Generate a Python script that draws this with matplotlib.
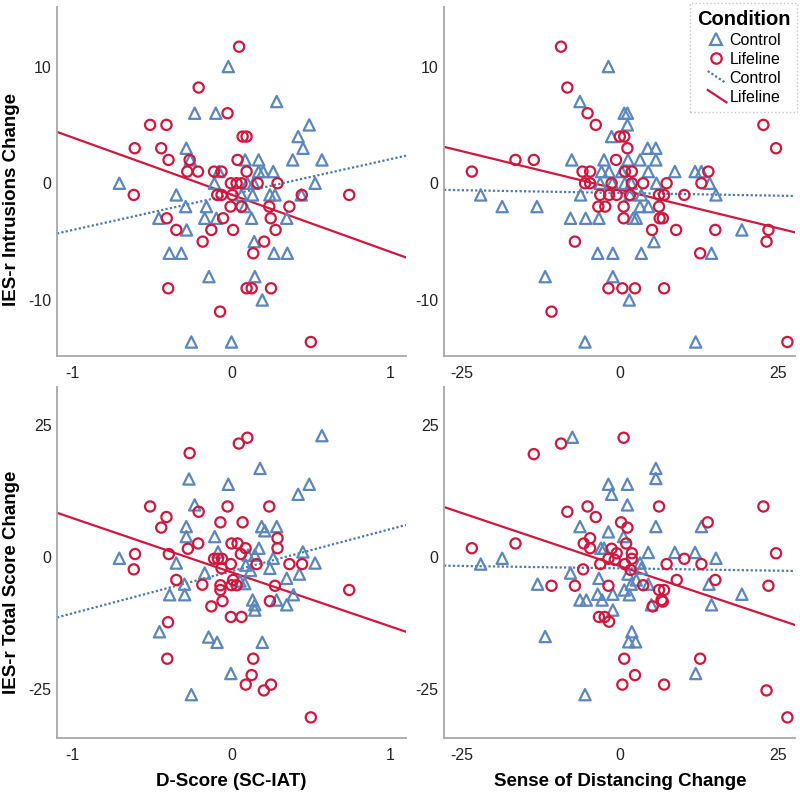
import numpy as np
import matplotlib
matplotlib.use("Agg")
import matplotlib.pyplot as plt
from matplotlib.legend_handler import HandlerBase

plt.rcParams["font.family"] = ["Liberation Sans", "DejaVu Sans"]
plt.rcParams["axes.unicode_minus"] = False

# colours for the two conditions
BLUE = "#5b87bd"
RED = "#d0173e"

# ---- top-left: D-Score vs IES-r Intrusions ----
tl_ctrl_x = [-0.02, 0.285, -0.232, -0.099, 0.49, 0.42, -0.285, 0.451, 0.086, 0.171, 0.386, 0.57, -0.26,
             0.171, 0.2, 0.263, -0.08, -0.707, -0.108, 0.1, 0.14, 0.527, -0.348, 0.063, 0.133, 0.242, 0.274,
             0.44, -0.289, -0.158, 0.084, -0.458, -0.169, -0.095, 0.127, 0.348, -0.283, 0.143, -0.392,
             -0.316, 0.268, 0.352, -0.142, 0.147, 0.194, -0.253, 0.0]
tl_ctrl_y = [10, 7, 6, 6, 5, 4, 3, 3, 2, 2, 2, 2, 2,
             1, 1, 1, 1, 0, 0, 0, 0, 0, -1, -1, -1, -1, -1,
             -1, -2, -2, -2, -3, -3, -3, -3, -3, -4, -5, -6,
             -6, -6, -6, -8, -8, -10, -13.6, -13.6]
tl_life_x = [0.048, -0.207, -0.025, -0.513, -0.41, 0.07, 0.095, -0.61, -0.443, -0.397, -0.264, 0.038,
             -0.279, -0.211, -0.11, -0.063, 0.095, -0.004, 0.032, 0.063, 0.165, 0.29, -0.616, -0.09,
             -0.063, 0.006, 0.443, 0.742, -0.006, 0.063, 0.238, 0.365, -0.408, -0.053, 0.247, -0.348,
             -0.127, 0.01, 0.278, -0.182, 0.206, 0.137, -0.399, 0.095, 0.127, 0.249, -0.072, 0.5]
tl_life_y = [11.7, 8.2, 6, 5, 5, 4, 4, 3, 3, 2, 2, 2,
             1, 1, 1, 1, 1, 0, 0, 0, 0, 0, -1, -1,
             -1, -1, -1, -1, -2, -2, -2, -2, -3, -3, -3, -4,
             -4, -4, -4, -5, -5, -6, -9, -9, -9, -9, -11, -13.6]

# ---- top-right: Sense of Distancing vs IES-r Intrusions ----
tr_ctrl_x = [-1.8, -6.3, 0.7, 1.2, 1.2, -1.3, 4.4, 5.7, -7.6, -2.5, 1.3, 3.2, 5.7, -2.9, -1.7, 0.3, 4.5,
             8.7, 11.9, 12.9, -3.1, -1.2, 0.8, 1.8, 5.8, 14.2, -22, -6.2, 1.6, 3.4, 15.2, -18.6, -13.1,
             3.2, 4.5, -7.8, -5.4, -3.3, 2.1, 2.6, 19.3, 5.4, -3.5, -1.1, 3.4, 14.5, -11.8, -1.1, 1.5,
             -5.5, 12.0]
tr_ctrl_y = [10, 7, 6, 6, 5, 4, 3, 3, 2, 2, 2, 2, 2, 1, 1, 1, 1,
             1, 1, 1, 0, 0, 0, 0, 0, 0, -1, -1, -1, -1, -1, -2, -2,
             -2, -2, -3, -3, -3, -3, -3, -4, -5, -6, -6, -6, -6, -8, -8, -10,
             -13.6, -13.6]
tr_life_x = [-9.3, -8.3, -5.1, -3.8, 22.7, 0, 0.7, 1.2, 24.7, -16.5, -13.6, -0.6, -23.4, -5.9, -4.7,
             0.8, 1.9, 14.0, -5.5, -4.7, -1.3, 1.9, 3.7, 7.4, 12.9, -3.1, -1.7, -0.5, 1.6, 6.2, 7.0,
             10.2, -3.4, -2.3, 0.6, 6.2, 0.6, 6.3, 6.8, 5.1, 8.9, 15.1, 23.5, -7.1, 23.2, 12.7, -1.8,
             0.4, 2.4, 7.0, -10.8, 26.5]
tr_life_y = [11.7, 8.2, 6, 5, 5, 4, 4, 3, 3, 2, 2, 2, 1, 1, 1,
             1, 1, 1, 0, 0, 0, 0, 0, 0, 0, -1, -1, -1, -1, -1, -1,
             -1, -2, -2, -2, -2, -3, -3, -3, -4, -4, -4, -4, -5, -5, -6, -9,
             -9, -9, -9, -11, -13.6]

# ---- bottom-left: D-Score vs IES-r Total ----
bl_ctrl_x = [0.57, 0.18, -0.268, -0.02, 0.49, 0.42, -0.232, -0.285, 0.19, 0.285, 0.21, -0.285, -0.106,
             0.173, -0.085, 0.45, -0.707, 0.105, 0.147, 0.263, -0.348, 0.527, 0.09, 0.12, 0.242, -0.169,
             0.428, 0.348, -0.296, 0.084, 0.053, -0.39, -0.295, 0.133, 0.147, 0.147, 0.284, 0.348, 0.39,
             -0.454, -0.144, -0.091, 0.194, -0.004, -0.253]
bl_ctrl_y = [23, 16.8, 14.8, 13.8, 13.8, 11.9, 9.9, 5.8, 5.8, 5.8, 5.0, 3.9, 3.9,
             1.7, 1.0, 1.0, -0.2, 0.4, 0.4, -0.2, -1.1, -1.1, -1.5, -2.5, -2.1, -3.0,
             -3.2, -4.0, -5.1, -5.0, -4.5, -7.1, -7.1, -8.1, -9.0, -10.0, -8.1, -9.0, -7.1,
             -14.1, -15.1, -16.1, -16.1, -22.0, -26.0]
bl_life_x = [0.046, 0.1, -0.264, -0.513, -0.025, 0.238, -0.207, -0.41, -0.443, -0.07, 0.07, 0.29, -0.21,
             -0.275, 0.0, 0.038, 0.089, 0.29, -0.608, -0.395, 0.059, -0.11, -0.085, -0.06, -0.616,
             -0.004, -0.063, 0.158, 0.365, 0.445, -0.348, -0.184, -0.07, 0.0, 0.032, 0.01, 0.274, 0.742,
             -0.07, -0.057, -0.127, 0.242, -0.004, 0.063, -0.4, -0.405, 0.137, 0.127, 0.09, 0.249, 0.204,
             0.5]
bl_life_y = [21.5, 22.6, 19.7, 9.6, 9.6, 9.6, 8.6, 7.6, 5.6, 6.6, 6.6, 3.6, 2.6,
             1.6, 2.6, 2.6, 1.7, 1.7, 0.6, 0.6, 0.6, -0.3, -0.3, -0.3, -2.3,
             -1.3, -2.1, -1.3, -1.3, -1.3, -4.3, -5.2, -5.3, -5.3, -5.3, -4.3, -5.4, -6.2,
             -6.2, -8.3, -9.3, -8.3, -11.3, -11.3, -12.3, -19.2, -19.2, -22.3, -24.1, -24.1, -25.2,
             -30.3]

# ---- bottom-right: Sense of Distancing vs IES-r Total ----
br_ctrl_x = [-7.5, 5.7, 5.7, -1.8, 1.2, -1.3, 1.2, -6.3, -1.8, 5.7, 12.9, 0.6, -3.0, -2.5, 4.5, 8.7,
             11.9, 15.2, -18.6, -22, 3.2, 3.4, -7.8, 1.3, -3.3, 2.6, -13.0, 1.8, 4.5, 14.1, 19.3, -3.5,
             -1.1, 0.7, -6.3, -5.3, -2.8, 1.5, 5.0, 14.5, -1.1, -11.8, 1.9, 1.4, 2.5, 12.0, -5.5]
br_ctrl_y = [22.7, 16.8, 14.9, 13.8, 13.8, 11.9, 9.9, 5.8, 4.8, 5.8, 5.8, 3.9, 1.7, 1.7, 0.9, 0.9,
             0.9, -0.2, -0.2, -1.3, -1.1, -2.1, -3.0, -3.2, -4.0, -4.3, -5.1, -5.1, -5.1, -5.1, -7.0, -7.0,
             -7.0, -6.2, -8.1, -8.1, -8.1, -7.1, -9.0, -9.0, -10, -15.0, -14.1, -16.0, -16.0, -22.0, -26]
br_life_x = [0.6, -9.3, -13.6, -5.1, 6.2, 22.7, -8.3, -3.8, 0.2, 1.2, 13.9, -4.7, -5.7, 1.0, -16.5,
             -4.7, -23.4, -1.3, -0.5, 1.9, 24.7, 10.2, -1.8, -0.8, 1.9, -3.1, 0.8, 7.4, 12.9, 1.7,
             -5.8, 9.0, 15.1, -10.8, -7.1, -1.8, 3.7, 23.5, 6.2, 7.0, 6.6, 6.8, 5.2, -3.3, -2.4, -1.7,
             0.7, 12.7, 2.4, 0.4, 7.0, 23.2, 26.5]
br_life_y = [22.6, 21.5, 19.5, 9.6, 9.6, 9.6, 8.6, 7.6, 6.6, 5.6, 6.6, 3.6, 2.6, 2.6, 2.6,
             1.7, 1.7, 1.6, 0.75, 0.75, 0.75, -0.3, -0.3, -0.5, -0.3, -1.3, -1.3, -1.3, -1.3, -2.4,
             -2.3, -4.3, -4.3, -5.4, -5.4, -5.4, -5.3, -5.4, -6.2, -6.2, -8.1, -8.4, -9.3, -11.3, -11.3, -12.2,
             -19.2, -19.2, -22.3, -24.1, -24.1, -25.2, -30.3]

# fit lines: (intercept, slope)
tl_fit = {"Control": (-0.97, 3.03), "Lifeline": (-0.98, -4.89)}
tr_fit = {"Control": (-0.83, -0.0094), "Lifeline": (-0.55, -0.132)}
bl_fit = {"Control": (-2.65, 7.95), "Lifeline": (-2.85, -10.23)}
br_fit = {"Control": (-2.1, -0.018), "Lifeline": (-1.68, -0.402)}

dscore_ticks = [-1, 0, 1]
distancing_ticks = [-25, 0, 25]
intrusion_ticks = [-10, 0, 10]
total_ticks = [-25, 0, 25]

W, H = 800, 793
fig = plt.figure(figsize=(W / 100, H / 100), dpi=100)


def make_ax(x0, y0, x1, y1):
    # pixel box -> figure fraction
    return fig.add_axes([x0 / W, 1 - y1 / H, (x1 - x0) / W, (y1 - y0) / H])


class DiagonalLine(HandlerBase):
    # SPSS draws the fit-line legend keys as short slanted strokes
    def create_artists(self, legend, orig_handle, xdescent, ydescent, width, height, fontsize, trans):
        line = plt.Line2D([-xdescent + 0.1 * width, -xdescent + width],
                          [-ydescent + height * 1.05, -ydescent - height * 0.05])
        line.update_from(orig_handle)
        line.set_transform(trans)
        return [line]


panels = [
    (make_ax(57, 7, 406, 356), tl_ctrl_x, tl_ctrl_y, tl_life_x, tl_life_y, tl_fit, (-1.1, 1.1), (-14.8, 15.1),
     dscore_ticks, intrusion_ticks),
    (make_ax(444, 7, 795, 356), tr_ctrl_x, tr_ctrl_y, tr_life_x, tr_life_y, tr_fit, (-27.8, 27.7), (-14.8, 15.1),
     distancing_ticks, intrusion_ticks),
    (make_ax(57, 387, 406, 738), bl_ctrl_x, bl_ctrl_y, bl_life_x, bl_life_y, bl_fit, (-1.1, 1.1), (-34.2, 32.2),
     dscore_ticks, total_ticks),
    (make_ax(444, 387, 795, 738), br_ctrl_x, br_ctrl_y, br_life_x, br_life_y, br_fit, (-27.8, 27.7), (-34.2, 32.2),
     distancing_ticks, total_ticks),
]

for ax, cx, cy, lx, ly, fit, xlim, ylim, xt, yt in panels:
    ax.scatter(cx, cy, marker="^", s=66, facecolors="none", edgecolors=BLUE, linewidths=1.6, zorder=3)
    ax.scatter(lx, ly, marker="o", s=54, facecolors="none", edgecolors=RED, linewidths=1.6, zorder=3)

    xs = np.array(xlim)
    b0, b1 = fit["Control"]
    ax.plot(xs, b0 + b1 * xs, color="#4a78b0", linestyle=(0, (1, 1)), linewidth=1.6, zorder=2)
    b0, b1 = fit["Lifeline"]
    ax.plot(xs, b0 + b1 * xs, color=RED, linestyle="-", linewidth=1.6, zorder=2)

    ax.set_xlim(*xlim)
    ax.set_ylim(*ylim)
    ax.set_xticks(xt)
    ax.set_yticks(yt)
    ax.tick_params(length=0, labelsize=11.5, colors="#222222")
    ax.tick_params(axis="x", pad=7)
    ax.tick_params(axis="y", pad=4)
    for side in ["top", "right"]:
        ax.spines[side].set_visible(False)
    for side in ["left", "bottom"]:
        ax.spines[side].set_color("#a8a8a8")
        ax.spines[side].set_linewidth(1.3)

# axis titles placed in pixels, as in the source
label_font = dict(fontsize=13.5, fontweight="bold", ha="center", va="center")
fig.text(12 / W, 1 - 200 / H, "IES-r Intrusions Change", rotation=90, **label_font)
fig.text(12 / W, 1 - 582 / H, "IES-r Total Score Change", rotation=90, **label_font)
fig.text(231 / W, 1 - 781 / H, "D-Score (SC-IAT)", **label_font)
fig.text(620 / W, 1 - 781 / H, "Sense of Distancing Change", **label_font)

# legend
h_ctrl = plt.Line2D([], [], marker="^", linestyle="none", markersize=8.5, markerfacecolor="none",
                    markeredgecolor=BLUE, markeredgewidth=1.6)
h_life = plt.Line2D([], [], marker="o", linestyle="none", markersize=7.5, markerfacecolor="none",
                    markeredgecolor=RED, markeredgewidth=1.6)
l_ctrl = plt.Line2D([], [], color="#4a78b0", linestyle=(0, (1, 1)), linewidth=1.6)
l_life = plt.Line2D([], [], color=RED, linewidth=1.6)
leg = fig.legend([h_ctrl, h_life, l_ctrl, l_life], ["Control", "Lifeline", "Control", "Lifeline"],
                 handler_map={l_ctrl: DiagonalLine(), l_life: DiagonalLine()},
                 title="Condition", loc="upper right", bbox_to_anchor=(799 / W, 1 - 1 / H),
                 fontsize=11.5, handlelength=1.3, handletextpad=0.2, labelspacing=0.25,
                 borderpad=0.45, borderaxespad=0.1, fancybox=False, framealpha=1, edgecolor="#c8c8c8")
leg.get_title().set_fontweight("bold")
leg.get_title().set_fontsize(14.5)
leg.get_frame().set_linestyle(":")

fig.savefig("out.png", dpi=100)
